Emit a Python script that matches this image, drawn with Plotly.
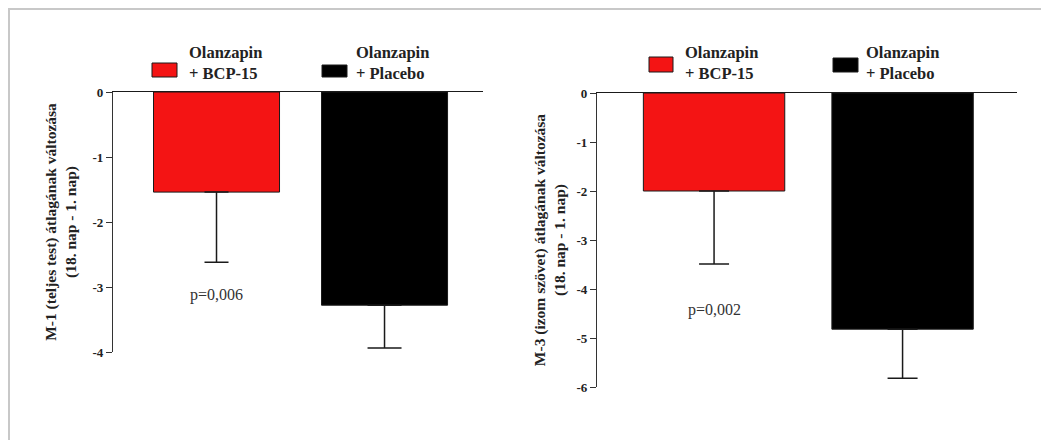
import plotly.graph_objects as go

# page is 1049x448 with the browser's default 8px body margin around the plot
PAGE_W, PAGE_H, OFF = 1049, 448, 8
W, H = PAGE_W - 2 * OFF, PAGE_H - 2 * OFF

groups = ["Olanzapin<br>+ BCP-15", "Olanzapin<br>+ Placebo"]
cats = ["BCP-15", "Placebo"]
colors = ["#f41414", "#000000"]

left_means = [-1.54, -3.28]
left_err = [1.08, 0.66]
left_caps = [12, 17]
left_p = "p=0,006"
left_title = "M-1 (teljes test) átlagának változása<br>(18. nap - 1. nap)"
left_ticks = [0, -1, -2, -3, -4]

right_means = [-2.0, -4.82]
right_err = [1.49, 1.0]
right_caps = [15, 15]
right_p = "p=0,002"
right_title = "M-3 (izom szövet) átlagának változása<br>(18. nap - 1. nap)"
right_ticks = [0, -1, -2, -3, -4, -5, -6]

FONT = "Liberation Serif, Times New Roman, serif"


def px_x(p):
    return (p - OFF) / W


def px_y(p):
    return 1 - (p - OFF) / H


def bold_lines(s):
    return "<b>" + s.replace("<br>", "</b><br><b>") + "</b>"


fig = go.Figure()

panels = [
    dict(means=left_means, err=left_err, caps=left_caps, xa="x", ya="y",
         xdom=[px_x(113), px_x(483)], ydom=[px_y(352), px_y(92)],
         xrange=[-0.616, 1.586], yrange=[-4, 0], ticks=left_ticks,
         title=left_title, p=left_p, py=-3.12, width=0.75, standoff=11),
    dict(means=right_means, err=right_err, caps=right_caps, xa="x2", ya="y2",
         xdom=[px_x(597), px_x(1017)], ydom=[px_y(387), px_y(93)],
         xrange=[-0.621, 1.607], yrange=[-6, 0], ticks=right_ticks,
         title=right_title, p=right_p, py=-4.43, width=0.75, standoff=6),
]

for i, pn in enumerate(panels):
    for j in range(2):
        fig.add_trace(go.Bar(
            x=[cats[j]], y=[pn["means"][j]], xaxis=pn["xa"], yaxis=pn["ya"],
            width=pn["width"], marker=dict(color=colors[j], line=dict(color="#1a1a1a", width=1)),
            error_y=dict(type="data", symmetric=False, array=[0], arrayminus=[pn["err"][j]],
                         color="#1a1a1a", thickness=1.5, width=pn["caps"][j]),
            showlegend=False, name=groups[j].replace("<br>", " "),
        ))
    sfx = "" if i == 0 else "2"
    fig.layout["xaxis" + sfx] = dict(
        domain=pn["xdom"], anchor="y" + sfx, type="category", categoryorder="array",
        categoryarray=cats, range=pn["xrange"], side="top", showline=True,
        linecolor="#1a1a1a", linewidth=1.3, showticklabels=False, ticks="",
        showgrid=False, zeroline=False, fixedrange=True, automargin=False)
    fig.layout["yaxis" + sfx] = dict(
        domain=pn["ydom"], anchor="x" + sfx, range=pn["yrange"], tickvals=pn["ticks"],
        ticktext=["<b>%d</b>" % t for t in pn["ticks"]], showline=True, linecolor="#333333",
        linewidth=1.3, ticks="outside", ticklen=6, tickcolor="#333333",
        tickfont=dict(family=FONT, size=13, color="#222222"),
        showgrid=False, zeroline=False, fixedrange=True, automargin=False,
        title=dict(text=bold_lines(pn["title"]), standoff=pn["standoff"],
                   font=dict(family=FONT, size=15.5, color="#222222")))
    fig.add_annotation(x=cats[0], y=pn["py"], xref=pn["xa"], yref=pn["ya"], text=pn["p"],
                       showarrow=False, font=dict(family=FONT, size=16, color="#333333"))

# legends drawn as key boxes + labels above each panel (page pixels)
legend_boxes = [
    [(152, 177, 63, 77), (322, 347, 65, 77)],
    [(649, 673, 57, 72), (833, 858, 58, 72)],
]
legend_text_x = [[187, 354], [683, 864]]
legend_text_y = [63, 63]
for i in range(2):
    for j in range(2):
        x0, x1, y0, y1 = legend_boxes[i][j]
        fig.add_shape(type="rect", xref="paper", yref="paper",
                      x0=px_x(x0), x1=px_x(x1), y0=px_y(y1), y1=px_y(y0),
                      fillcolor=colors[j], line=dict(color="#1a1a1a", width=1))
        fig.add_annotation(xref="paper", yref="paper", x=px_x(legend_text_x[i][j]),
                           y=px_y(legend_text_y[i]), xanchor="left", yanchor="middle",
                           text=bold_lines(groups[j]), showarrow=False, align="left",
                           font=dict(family=FONT, size=16.5, color="#222222"))

# light frame (top and left edges)
fig.add_shape(type="line", xref="paper", yref="paper", x0=0, x1=1, y0=px_y(9), y1=px_y(9),
              line=dict(color="#c8c8c8", width=2))
fig.add_shape(type="line", xref="paper", yref="paper", x0=px_x(9), x1=px_x(9), y0=0, y1=px_y(9),
              line=dict(color="#c8c8c8", width=2))

fig.update_layout(width=W, height=H, margin=dict(l=0, r=0, t=0, b=0, autoexpand=False),
                  paper_bgcolor="white", plot_bgcolor="white", bargap=0.25,
                  font=dict(family=FONT))

fig.write_html("out.html", config={"displayModeBar": False})
